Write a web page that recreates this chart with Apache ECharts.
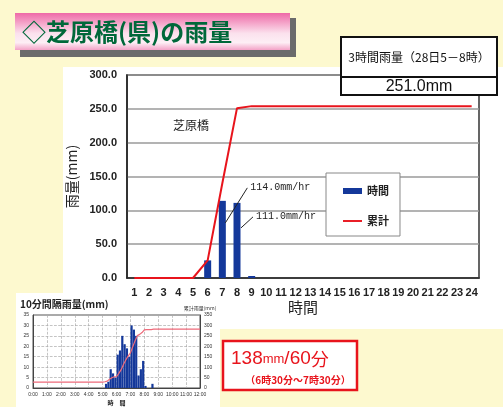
<!DOCTYPE html>
<html>
<head>
<meta charset="utf-8">
<script src="https://cdn.jsdelivr.net/npm/echarts@6/dist/echarts.min.js"></script>
<style>
  html, body { margin: 0; padding: 0; background: #fdf9cf; }
  #chart { width: 503px; height: 407px; }
</style>
</head>
<body>
<div id="chart"></div>
<script>
// Hourly rainfall at 芝原橋 (hour of day 1–24)
const hours = ['1','2','3','4','5','6','7','8','9','10','11','12','13','14','15','16','17','18','19','20','21','22','23','24'];
const hourlyRain = [0, 0, 0, 0, 0, 26, 114, 111, 3, 0, 0, 0, 0, 0, 0, 0, 0, 0, 0, 0, 0, 0, 0, 0];
const hourlyTotal = [0, 0, 0, 0, 0, 26, 140, 251, 254, 254, 254, 254, 254, 254, 254, 254, 254, 254, 254, 254, 254, 254, 254, 254];
const yTicks = [0, 50, 100, 150, 200, 250, 300];

// 10-minute rainfall (bin end time) and running total in the inset chart
const tenMinEnd = ['5:10','5:20','5:30','5:40','5:50','6:00',
                   '6:10','6:20','6:30','6:40','6:50','7:00',
                   '7:10','7:20','7:30','7:40','7:50','8:00',
                   '8:10','8:20','8:30','8:40','8:50','9:00'];
const tenMinRain = [0, 2, 3, 9, 7, 5,
                    16, 18, 25, 21, 19, 15,
                    30, 28, 25, 6, 9, 13,
                    1, 0, 0, 2, 0, 0];
const totalTimes = ['0:00','5:00'].concat(tenMinEnd, ['12:00']);
const totalValues = [28, 28, 30, 33, 42, 49, 54, 54,
                     70, 88, 113, 134, 153, 168,
                     198, 226, 251, 257, 266, 279,
                     280, 280, 280, 282, 282, 282, 282];
const insetHourTicks = ['0:00','1:00','2:00','3:00','4:00','5:00','6:00','7:00','8:00','9:00','10:00','11:00','12:00'];

const toHours = s => { const p = s.split(':'); return +p[0] + (+p[1]) / 60; };

const RED = '#e8141c';
const BLUE = '#14389a';
const JP = '"Noto Sans CJK JP", "Noto Sans", sans-serif';
const LAT = '"Liberation Sans", Arial, sans-serif';

const chart = echarts.init(document.getElementById('chart'), null, { renderer: 'canvas' });

const staticGraphics = [
  // white panels
  { type: 'rect', z: -20, shape: { x: 63, y: 67, width: 440, height: 262 }, style: { fill: '#ffffff' } },
  { type: 'rect', z: -20, shape: { x: 16, y: 293, width: 204, height: 114 }, style: { fill: '#ffffff' } },
  // heading plate with shadow
  { type: 'rect', z: 10, shape: { x: 20, y: 18, width: 276, height: 39 }, style: { fill: '#6b6b6b' } },
  { type: 'rect', z: 11, shape: { x: 15, y: 13, width: 275, height: 37 },
    style: { fill: new echarts.graphic.LinearGradient(0, 0, 0, 1, [
      { offset: 0, color: '#ee6aa7' },
      { offset: 0.55, color: '#fbe1ed' },
      { offset: 0.8, color: '#fdeef5' },
      { offset: 1, color: '#f3a2c7' }
    ]) } },
  { type: 'text', z: 12, x: 22, y: 32,
    style: { text: '◇芝原橋(県)の雨量', font: 'bold 24px ' + JP, fill: '#00683a', verticalAlign: 'middle' } },
  // 3-hour total table
  { type: 'rect', z: 20, shape: { x: 341, y: 37, width: 156, height: 58 },
    style: { fill: '#ffffff', stroke: '#111', lineWidth: 2 } },
  { type: 'line', z: 21, shape: { x1: 341, y1: 77, x2: 497, y2: 77 }, style: { stroke: '#111', lineWidth: 2 } },
  { type: 'text', z: 22, x: 419, y: 57,
    style: { text: '3時間雨量（28日5－8時）', font: '12px ' + JP, fill: '#111', align: 'center', verticalAlign: 'middle' } },
  { type: 'text', z: 22, x: 419, y: 87,
    style: { text: '251.0mm', font: '16px ' + LAT, fill: '#111', align: 'center', verticalAlign: 'middle' } },
  // station label inside the plot
  { type: 'text', z: 5, x: 173, y: 125,
    style: { text: '芝原橋', font: '12px ' + JP, fill: '#222', verticalAlign: 'middle' } },
  // inset heading
  { type: 'text', z: 5, x: 20, y: 304,
    style: { text: '10分間隔雨量(mm)', font: 'bold 10px ' + JP, fill: '#222', verticalAlign: 'middle' } },
  // peak 60-minute box
  { type: 'rect', z: 5, shape: { x: 223, y: 341, width: 134, height: 49 },
    style: { fill: '#ffffff', stroke: RED, lineWidth: 2.5 } },
  { type: 'text', z: 6, x: 231, y: 359,
    style: { text: '{n|138}{u|mm}{n|/60}{k|分}', verticalAlign: 'middle', fill: RED,
      rich: {
        n: { font: '19px ' + LAT, fill: RED },
        u: { font: '13px ' + LAT, fill: RED },
        k: { font: '18px ' + JP, fill: RED }
      } } },
  { type: 'text', z: 6, x: 298, y: 380,
    style: { text: '（6時30分～7時30分）', font: 'bold 10px ' + JP, fill: RED, align: 'center', verticalAlign: 'middle' } }
];

const option = {
  backgroundColor: '#fdf9cf',
  animation: false,
  textStyle: { fontFamily: LAT },
  legend: {
    left: 326, top: 173, orient: 'vertical',
    data: [
      { name: '時間', icon: 'rect' },
      { name: '累計', icon: 'path://M0,0H20V2H0Z' }
    ],
    symbolKeepAspect: true,
    backgroundColor: '#ffffff', borderColor: '#888', borderWidth: 1,
    padding: [11, 11, 8, 17],
    itemWidth: 19, itemHeight: 6, itemGap: 16,
    textStyle: { fontFamily: JP, fontSize: 11, color: '#222', lineHeight: 14, fontWeight: 'bold' }
  },
  grid: [
    { left: 127, top: 75, right: 24, bottom: 129, show: true, borderColor: '#333', borderWidth: 1.5, backgroundColor: '#ffffff' },
    { left: 33, top: 315, right: 303, bottom: 18, show: true, borderColor: '#555', borderWidth: 1, backgroundColor: '#ffffff' }
  ],
  xAxis: [
    {
      gridIndex: 0, type: 'category', data: hours, boundaryGap: true,
      name: '時間', nameLocation: 'middle', nameGap: 22,
      nameTextStyle: { fontFamily: JP, fontSize: 15, color: '#222' },
      axisLine: { lineStyle: { color: '#222', width: 1.5 } },
      axisTick: { show: false },
      axisLabel: { color: '#222', fontSize: 11, fontWeight: 'bold', margin: 9, interval: 0 }
    },
    {
      gridIndex: 1, type: 'value', min: 0, max: 12, interval: 1,
      name: '時　間', nameLocation: 'middle', nameGap: 12,
      nameTextStyle: { fontFamily: JP, fontSize: 6, fontWeight: 'bold', color: '#222' },
      axisLine: { lineStyle: { color: '#444', width: 1 } },
      axisTick: { show: false },
      axisLabel: { color: '#333', fontSize: 5, margin: 4, formatter: v => insetHourTicks[v] },
      splitLine: { show: true, lineStyle: { color: '#aaa', type: 'dashed', width: 0.7 } }
    }
  ],
  yAxis: [
    {
      gridIndex: 0, type: 'value', min: 0, max: 300, interval: 50,
      name: '雨量(mm)', nameLocation: 'middle', nameGap: 44, nameRotate: 90,
      nameTextStyle: { fontFamily: JP, fontSize: 14, color: '#222' },
      axisLine: { show: true, lineStyle: { color: '#222', width: 1.5 } },
      axisTick: { show: false },
      axisLabel: { color: '#222', fontSize: 11, fontWeight: 'bold', margin: 10,
        formatter: v => yTicks.indexOf(v) >= 0 ? v.toFixed(1) : '' },
      splitLine: { lineStyle: { color: '#9a9a9a', width: 1.5 } }
    },
    {
      gridIndex: 1, type: 'value', min: 0, max: 35, interval: 5,
      axisLine: { show: true, lineStyle: { color: '#444', width: 1 } },
      axisTick: { show: false },
      axisLabel: { color: '#333', fontSize: 5, margin: 4 },
      splitLine: { lineStyle: { color: '#aaa', type: 'dashed', width: 0.7 } }
    },
    {
      gridIndex: 1, type: 'value', min: 0, max: 350, interval: 50, position: 'right',
      name: '累計雨量(mm)', nameGap: 4,
      nameTextStyle: { fontFamily: JP, fontSize: 5, color: '#333', align: 'center' },
      axisLine: { show: true, lineStyle: { color: '#444', width: 1 } },
      axisTick: { show: false },
      axisLabel: { color: '#333', fontSize: 5, margin: 4 },
      splitLine: { show: false }
    }
  ],
  series: [
    {
      name: '時間', type: 'bar', xAxisIndex: 0, yAxisIndex: 0,
      data: hourlyRain, barWidth: 7, itemStyle: { color: BLUE }, z: 3
    },
    {
      name: '累計', type: 'line', xAxisIndex: 0, yAxisIndex: 0,
      data: hourlyTotal, symbol: 'none', lineStyle: { color: RED, width: 2 },
      itemStyle: { color: RED }, z: 4
    },
    {
      name: '10分雨量', type: 'bar', xAxisIndex: 1, yAxisIndex: 1,
      data: tenMinEnd.map((t, i) => [toHours(t) - 1 / 12, tenMinRain[i]]),
      barWidth: 2.2, itemStyle: { color: BLUE }, z: 3
    },
    {
      name: '10分累計', type: 'line', xAxisIndex: 1, yAxisIndex: 2,
      data: totalTimes.map((t, i) => [toHours(t), totalValues[i]]),
      symbol: 'none', lineStyle: { color: '#ee6a7a', width: 1.2 }, z: 4
    }
  ],
  graphic: { elements: staticGraphics }
};

chart.setOption(option);

// Leader lines and value labels for the two peak hours
const notes = [];
[[6, 3, 22, 25, -13], [7, 4, 25, 16, 14]].forEach(([idx, sx, sy, ex, ey]) => {
  const v = hourlyRain[idx];
  const p = chart.convertToPixel({ xAxisIndex: 0, yAxisIndex: 0 }, [idx, v]);
  const x1 = p[0] + sx, y1 = p[1] + sy;
  const x2 = p[0] + ex, y2 = p[1] + ey;
  notes.push({ type: 'line', z: 30, shape: { x1, y1, x2, y2 }, style: { stroke: '#222', lineWidth: 1 } });
  notes.push({ type: 'text', z: 30, x: x2 + 3, y: y2 - 1,
    style: { text: v.toFixed(1) + 'mm/hr', font: '10px "Liberation Mono", monospace', fill: '#222', verticalAlign: 'middle' } });
});
chart.setOption({ graphic: { elements: staticGraphics.concat(notes) } });
</script>
</body>
</html>
